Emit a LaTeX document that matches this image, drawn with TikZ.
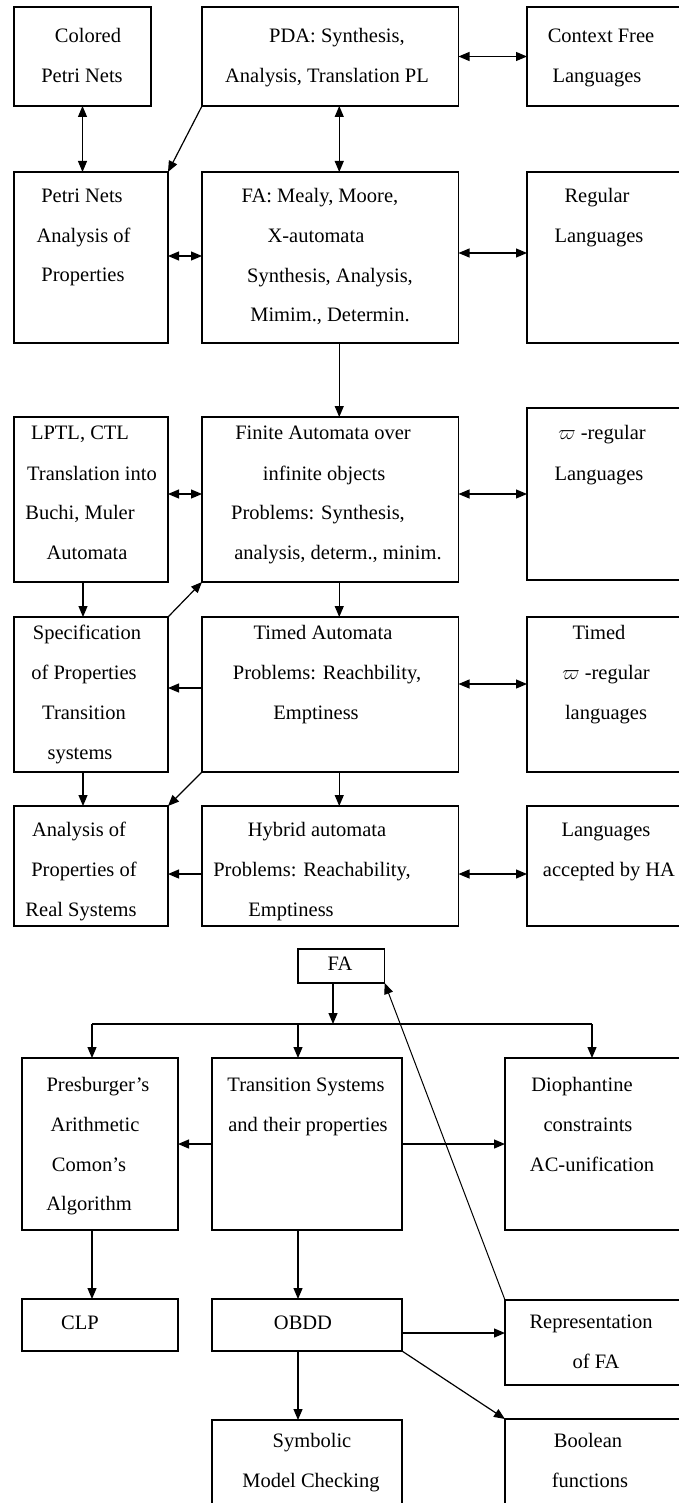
\documentclass[tikz,border=0pt]{standalone}
\usepackage{fontspec}
\setmainfont{Liberation Serif}
\usetikzlibrary{arrows.meta,calc}
\begin{document}
\begin{tikzpicture}[x=1pt,y=-1pt,
  box/.style={draw, line width=1.2pt, inner sep=0pt, outer sep=0pt, anchor=north west},
  txt/.style={font=\fontsize{20.5pt}{24pt}\selectfont, inner sep=0pt, anchor=base},
  arr/.style={line width=1.2pt, -{Triangle[length=11pt,width=9pt]}},
  darr/.style={line width=1.2pt, {Triangle[length=11pt,width=9pt]}-{Triangle[length=11pt,width=9pt]}}]
\useasboundingbox (0,0) rectangle (678,1503);

% ---------- boxes, upper diagram ----------
\node[box, minimum width=137pt, minimum height=99pt]   (colored)  at (14,7) {};
\node[box, minimum width=256.5pt, minimum height=99pt] (pda)      at (202,7) {};
\node[box, minimum width=160pt, minimum height=99pt]   (cf)       at (527,7) {};
\node[box, minimum width=154pt, minimum height=171pt]  (pn)       at (14,172) {};
\node[box, minimum width=256.5pt, minimum height=171pt](fa)       at (202,172) {};
\node[box, minimum width=160pt, minimum height=171pt]  (reg)      at (527,172) {};
\node[box, minimum width=154pt, minimum height=165pt]  (lptl)     at (14,417) {};
\node[box, minimum width=256.5pt, minimum height=165pt](finaut)   at (202,417) {};
\node[box, minimum width=160pt, minimum height=172pt]  (omega)    at (527,408) {};
\node[box, minimum width=154pt, minimum height=155pt]  (spec)     at (14,617) {};
\node[box, minimum width=256.5pt, minimum height=155pt](timed)    at (202,617) {};
\node[box, minimum width=160pt, minimum height=155pt]  (tomega)   at (527,617) {};
\node[box, minimum width=154pt, minimum height=120pt]  (analysis) at (14,806) {};
\node[box, minimum width=256.5pt, minimum height=120pt](hybrid)   at (202,806) {};
\node[box, minimum width=160pt, minimum height=120pt]  (langha)   at (527,806) {};

% ---------- boxes, lower diagram ----------
\node[box, minimum width=86.7pt, minimum height=34pt]  (fa2)   at (298,949) {};
\node[box, minimum width=156pt, minimum height=172pt]  (presb) at (22,1058) {};
\node[box, minimum width=190pt, minimum height=172pt]  (ts)    at (212,1058) {};
\node[box, minimum width=180pt, minimum height=172pt]  (dioph) at (505,1058) {};
\node[box, minimum width=156pt, minimum height=52pt]   (clp)   at (22,1299) {};
\node[box, minimum width=190pt, minimum height=52pt]   (obdd)  at (212,1299) {};
\node[box, minimum width=180pt, minimum height=85pt]   (repr)  at (505,1300) {};
\node[box, minimum width=190pt, minimum height=100pt]  (smc)   at (212,1420) {};
\node[box, minimum width=180pt, minimum height=100pt]  (bool)  at (505,1419) {};

% ---------- texts ----------
\node[txt] (t01) at (88,43) {Colored};
\node[txt] (t02) at (82,83) {Petri Nets};
\node[txt] (t03) at (337,43) {PDA: Synthesis,};
\node[txt] (t04) at (327,83) {Analysis, Translation PL};
\node[txt] (t05) at (601,43) {Context Free};
\node[txt] (t06) at (597,83) {Languages};
\node[txt] (t07) at (82,203) {Petri Nets};
\node[txt] (t08) at (83.5,243) {Analysis of};
\node[txt] (t09) at (83,282) {Properties};
\node[txt] (t10) at (320,203) {FA: Mealy, Moore,};
\node[txt] (t11) at (316,243) {X-automata};
\node[txt] (t12) at (330,283) {Synthesis, Analysis,};
\node[txt] (t13) at (330,321) {Mimim., Determin.};
\node[txt] (t14) at (597,203) {Regular};
\node[txt] (t15) at (599,243) {Languages};
\node[txt] (t16) at (80,439) {LPTL, CTL};
\node[txt] (t17) at (92,480) {Translation into};
\node[txt] (t18) at (80,519) {Buchi, Muler};
\node[txt] (t19) at (87,559) {Automata};
\node[txt] (t20) at (323,439) {Finite Automata over};
\node[txt] (t21) at (324,480) {infinite objects};
\node[txt] (t22) at (318,519) {Problems: Synthesis,};
\node[txt] (t23) at (338,559) {analysis, determ., minim.};
\node[txt] (t24) at (602,439) {$\varpi$ -regular};
\node[txt] (t25) at (599,480) {Languages};
\node[txt] (t26) at (87,639) {Specification};
\node[txt] (t27) at (84,679) {of Properties};
\node[txt] (t28) at (84,719) {Transition};
\node[txt] (t29) at (80,759) {systems};
\node[txt] (t30) at (323,639) {Timed Automata};
\node[txt] (t31) at (327,679) {Problems: Reachbility,};
\node[txt] (t32) at (316,719) {Emptiness};
\node[txt] (t33) at (599,639) {Timed};
\node[txt] (t34) at (606,679) {$\varpi$ -regular};
\node[txt] (t35) at (606,719) {languages};
\node[txt] (t36) at (79,836) {Analysis of};
\node[txt] (t37) at (84,876) {Properties of};
\node[txt] (t38) at (81,916) {Real Systems};
\node[txt] (t39) at (317,836) {Hybrid automata};
\node[txt] (t40) at (312,876) {Problems: Reachability,};
\node[txt] (t41) at (291,916) {Emptiness};
\node[txt] (t42) at (606,836) {Languages};
\node[txt] (t43) at (609,876) {accepted by HA};
\node[txt] (t44) at (340,970) {FA};
\node[txt] (t45) at (98,1091) {Presburger’s};
\node[txt] (t46) at (95,1131) {Arithmetic};
\node[txt] (t47) at (89,1171) {Comon’s};
\node[txt] (t48) at (89,1210) {Algorithm};
\node[txt] (t49) at (306,1091) {Transition Systems};
\node[txt] (t50) at (308,1131) {and their properties};
\node[txt] (t51) at (582,1091) {Diophantine};
\node[txt] (t52) at (588,1131) {constraints};
\node[txt] (t53) at (592,1171) {AC-unification};
\node[txt] (t54) at (80,1329) {CLP};
\node[txt] (t55) at (303,1329) {OBDD};
\node[txt] (t56) at (591,1328) {Representation};
\node[txt] (t57) at (596,1368) {of FA};
\node[txt] (t58) at (312,1447) {Symbolic};
\node[txt] (t59) at (311,1487) {Model Checking};
\node[txt] (t60) at (588,1447) {Boolean};
\node[txt] (t61) at (590,1487) {functions};

% ---------- connectors, upper diagram ----------
\draw[darr] (pda.east) -- (cf.west);
\draw[darr] (colored.south) -- (colored.south |- pn.north);
\draw[arr]  (pda.south west) -- (pn.north east);
\draw[darr] ([xshift=9pt]pda.south) -- ([xshift=9pt]fa.north);
\draw[darr] ([yshift=1.5pt]pn.east) -- ([yshift=1.5pt]fa.west);
\draw[darr] ([yshift=4.5pt]fa.east) -- ([yshift=4.5pt]reg.west);
\draw[arr]  ([xshift=9pt]fa.south) -- ([xshift=9pt]finaut.north);
\draw[darr] ([yshift=5.5pt]lptl.east) -- ([yshift=5.5pt]finaut.west);
\draw[darr] ([yshift=5.5pt]finaut.east) -- ([yshift=5.5pt]finaut.east -| omega.west);
\draw[arr]  ([xshift=-8pt]lptl.south) -- ([xshift=-8pt]spec.north);
\draw[arr]  (spec.north east) -- (finaut.south west);
\draw[arr]  ([xshift=9pt]finaut.south) -- ([xshift=9pt]timed.north);
\draw[arr]  ([yshift=6.5pt]timed.west) -- ([yshift=6.5pt]spec.east);
\draw[darr] ([yshift=10.5pt]timed.east) -- ([yshift=10.5pt]tomega.west);
\draw[arr]  ([xshift=-8pt]spec.south) -- ([xshift=-8pt]analysis.north);
\draw[arr]  (timed.south west) -- (analysis.north east);
\draw[arr]  ([xshift=9pt]timed.south) -- ([xshift=9pt]hybrid.north);
\draw[arr]  ([yshift=-8pt]hybrid.west) -- ([yshift=-8pt]analysis.east);
\draw[darr] ([yshift=-8pt]hybrid.east) -- ([yshift=-8pt]langha.west);

% ---------- connectors, lower diagram ----------
\coordinate (jl) at (92,1024);
\coordinate (jm) at (298,1024);
\coordinate (jr) at (592,1024);
\coordinate (jf) at (333,1024);
\draw[line width=1.2pt] (jl) -- (jr);
\draw[arr] (fa2.south -| jf) -- (jf);
\draw[arr] (jl) -- (jl |- presb.north);
\draw[arr] (jm) -- (jm |- ts.north);
\draw[arr] (jr) -- (jr |- dioph.north);
\draw[arr] (ts.west) -- (presb.east);
\draw[arr] (ts.east) -- (dioph.west);
\draw[arr] (presb.south -| jl) -- (jl |- clp.north);
\draw[arr] (ts.south -| jm) -- (jm |- obdd.north);
\draw[arr] ([yshift=-8pt]obdd.east) -- ([yshift=-8pt]obdd.east -| repr.west);
\draw[arr, line width=1pt] (repr.north west) -- (fa2.south east);
\draw[arr] (obdd.south -| jm) -- (jm |- smc.north);
\draw[arr] (obdd.south east) -- (bool.north west);
\end{tikzpicture}
\end{document}
